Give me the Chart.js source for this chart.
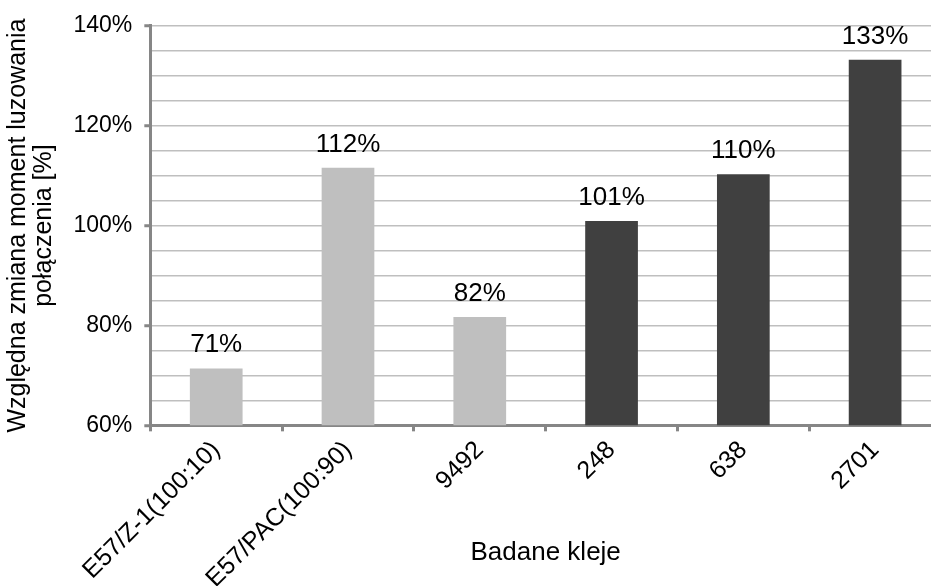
<!DOCTYPE html>
<html>
<head>
<meta charset="utf-8">
<script src="https://cdn.jsdelivr.net/npm/chart.js@4/dist/chart.umd.min.js"></script>
<style>
  html, body { margin: 0; padding: 0; background: #fff; overflow: hidden; }
  #wrap { width: 931px; height: 586px; overflow: hidden; }
</style>
</head>
<body>
<div id="wrap"><canvas id="c" width="944" height="586"></canvas></div>
<script>
// Adhesives tested and their relative change of loosening torque (%)
const categories = ['E57/Z-1(100:10)', 'E57/PAC(100:90)', '9492', '248', '638', '2701'];
const relativeChange = [71.4, 111.6, 81.7, 100.9, 110.3, 133.2];
const barColors = ['#BFBFBF', '#BFBFBF', '#BFBFBF', '#404040', '#404040', '#404040'];
const yTickLabels = [60, 80, 100, 120, 140];

const FONT = '"Liberation Sans", Arial, sans-serif';

// Writes the rounded percentage above each bar
const valueLabels = {
  id: 'valueLabels',
  afterDatasetsDraw(chart) {
    const ctx = chart.ctx;
    const meta = chart.getDatasetMeta(0);
    ctx.save();
    ctx.font = '26px ' + FONT;
    ctx.fillStyle = '#000';
    ctx.textAlign = 'center';
    ctx.textBaseline = 'alphabetic';
    meta.data.forEach((bar, i) => {
      const v = chart.data.datasets[0].data[i];
      ctx.fillText(Math.round(v) + '%', bar.x, bar.y - 16);
    });
    ctx.restore();
  }
};

new Chart(document.getElementById('c'), {
  type: 'bar',
  data: {
    labels: categories,
    datasets: [{
      data: relativeChange,
      backgroundColor: barColors,
      barPercentage: 0.4,
      categoryPercentage: 1.0
    }]
  },
  options: {
    responsive: false,
    animation: false,
    layout: { padding: { top: 6, right: 3, left: 5, bottom: 0 } },
    plugins: { legend: { display: false }, tooltip: { enabled: false } },
    scales: {
      x: {
        border: { color: '#868686', width: 3 },
        grid: {
          drawOnChartArea: false,
          drawTicks: true,
          tickLength: 6,
          tickWidth: 3,
          tickColor: '#868686'
        },
        ticks: {
          color: '#000',
          font: { family: FONT, size: 25 },
          minRotation: 45,
          maxRotation: 45,
          padding: 4,
          autoSkip: false
        },
        title: {
          display: true,
          text: 'Badane kleje',
          color: '#000',
          font: { family: FONT, size: 26 },
          padding: { top: -61, bottom: 18 }
        }
      },
      y: {
        min: 60,
        max: 140,
        border: { color: '#868686', width: 3 },
        grid: {
          color: '#BFBFBF',
          lineWidth: 1.5,
          tickLength: 6,
          tickWidth: 3,
          tickColor: (ctx) => yTickLabels.includes(ctx.tick && ctx.tick.value) ? '#868686' : 'rgba(0,0,0,0)'
        },
        ticks: {
          stepSize: 5,
          color: '#000',
          font: { family: FONT, size: 23 },
          padding: 12,
          autoSkip: false,
          callback: (v) => yTickLabels.includes(v) ? v + '%' : ''
        },
        title: {
          display: true,
          text: ['Względna zmiana moment luzowania', 'połączenia [%]'],
          color: '#000',
          font: { family: FONT, size: 25, lineHeight: 1.05 },
          padding: { top: 0, bottom: 4 }
        }
      }
    }
  },
  plugins: [valueLabels]
});
</script>
</body>
</html>
